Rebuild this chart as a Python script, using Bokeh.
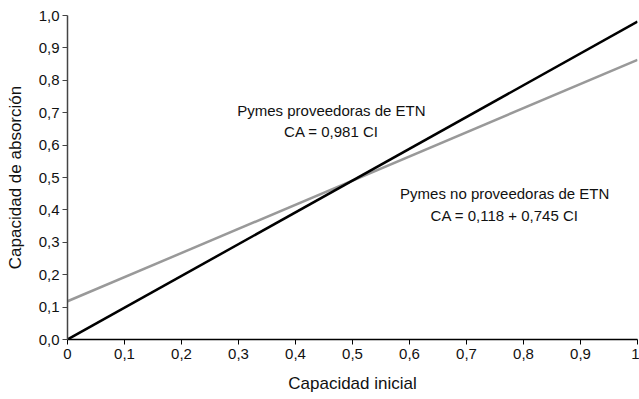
from bokeh.plotting import figure
from bokeh.models import FixedTicker, Range1d
from bokeh.core.properties import value
from bokeh.embed import file_html
from bokeh.resources import INLINE

# Data
ci = [0.0, 1.0]
pymes_prov = [0.981 * v for v in ci]            # CA = 0,981 CI
pymes_no_prov = [0.118 + 0.745 * v for v in ci]  # CA = 0,118 + 0,745 CI

x_ticks = [0.0, 0.1, 0.2, 0.3, 0.4, 0.5, 0.6, 0.7, 0.8, 0.9, 1.0]
x_labels = ["0", "0,1", "0,2", "0,3", "0,4", "0,5", "0,6", "0,7", "0,8", "0,9", "1"]
y_ticks = [0.0, 0.1, 0.2, 0.3, 0.4, 0.5, 0.6, 0.7, 0.8, 0.9, 1.0]
y_labels = ["0,0", "0,1", "0,2", "0,3", "0,4", "0,5", "0,6", "0,7", "0,8", "0,9", "1,0"]

ann_text = ["Pymes proveedoras de ETN", "CA = 0,981 CI",
            "Pymes no proveedoras de ETN", "CA = 0,118 + 0,745 CI"]
ann_x = [0.463, 0.463, 0.767, 0.767]
ann_y = [0.707, 0.642, 0.451, 0.383]

FONT = "Liberation Sans"

p = figure(width=639, height=399, output_backend="svg", toolbar_location=None,
           x_range=Range1d(0, 1), y_range=Range1d(0, 1))
p.min_border_left = 67
p.min_border_right = 2
p.min_border_top = 15
p.min_border_bottom = 60
p.outline_line_color = None
p.grid.visible = False
p.background_fill_color = "white"
p.border_fill_color = "white"

p.line(ci, pymes_no_prov, line_color="#999999", line_width=2.5)
p.line(ci, pymes_prov, line_color="#000000", line_width=2.5)

p.text(x=ann_x, y=ann_y, text=ann_text, text_font=value(FONT), text_font_size="15px",
       text_align="center", text_baseline="alphabetic", text_color="#111111")

for ax, ticks, labels in ((p.xaxis[0], x_ticks, x_labels), (p.yaxis[0], y_ticks, y_labels)):
    ax.ticker = FixedTicker(ticks=ticks)
    ax.major_label_overrides = {t: l for t, l in zip(ticks, labels)}
    ax.major_tick_in = 0
    ax.major_tick_out = 5
    ax.minor_tick_line_color = None
    ax.major_label_text_font = FONT
    ax.major_label_text_font_size = "15px"
    ax.major_label_text_color = "#111111"
    ax.axis_label_text_font = FONT
    ax.axis_label_text_font_size = "17px"
    ax.axis_label_text_font_style = "normal"
    ax.axis_label_text_color = "#111111"

p.xaxis.axis_label = "Capacidad inicial"
p.yaxis.axis_label = "Capacidad de absorción"
p.xaxis.axis_line_color = "black"
p.xaxis.major_tick_line_color = "black"
p.yaxis.axis_line_color = "#444444"
p.yaxis.major_tick_line_color = "#444444"
p.xaxis.axis_line_width = 1.5
p.yaxis.axis_line_width = 1.5
p.xaxis.major_label_standoff = 4
p.yaxis.major_label_standoff = 3
p.xaxis.axis_label_standoff = 12
p.yaxis.axis_label_standoff = 11

open("out.html", "w").write(file_html(p, INLINE))
